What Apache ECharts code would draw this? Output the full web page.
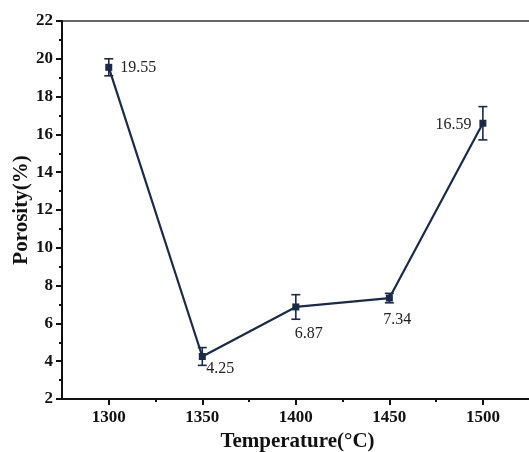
<!DOCTYPE html>
<html>
<head>
<meta charset="utf-8">
<script src="https://cdn.jsdelivr.net/npm/echarts@6/dist/echarts.min.js"></script>
<style>
  html, body { margin: 0; padding: 0; background: #fff; }
  #main { width: 529px; height: 452px; }
</style>
</head>
<body>
<div id="main"></div>
<script>
// data
var temps = [1300, 1350, 1400, 1450, 1500];
var porosity = [19.55, 4.25, 6.87, 7.34, 16.59];
var errors = [0.45, 0.47, 0.65, 0.25, 0.88];
var xMajorTicks = [1300, 1350, 1400, 1450, 1500];
var xMinorTicks = [1325, 1375, 1425, 1475];

var lineColor = '#1b2a47';
var serif = '"Liberation Serif", "DejaVu Serif", serif';

// label placement per point (position, offset)
var labelPlace = [
  { position: 'right', distance: 8, offset: [0, 0] },
  { position: 'bottom', distance: 1, offset: [18, 0] },
  { position: 'bottom', distance: 15, offset: [13, 0] },
  { position: 'bottom', distance: 10, offset: [8, 0] },
  { position: 'left', distance: 8, offset: [0, 2] }
];

var lineData = temps.map(function (t, i) {
  return {
    value: [t, porosity[i]],
    label: {
      show: true,
      position: labelPlace[i].position,
      distance: labelPlace[i].distance,
      offset: labelPlace[i].offset,
      formatter: porosity[i].toFixed(2)
    }
  };
});

var errData = temps.map(function (t, i) {
  return [t, porosity[i] - errors[i], porosity[i] + errors[i]];
});

var myChart = echarts.init(document.getElementById('main'));
myChart.setOption({
  animation: false,
  grid: {
    left: 62,
    top: 21,
    height: 378,
    width: 477,
    outerBoundsMode: 'none',
    containLabel: false,
    show: true,
    borderColor: '#333',
    borderWidth: 1.5,
    backgroundColor: 'transparent'
  },
  xAxis: [
    {
      type: 'value',
      min: 1275,
      max: 1530,
      name: 'Temperature(°C)',
      nameLocation: 'middle',
      nameGap: 31,
      nameTextStyle: { fontFamily: serif, fontWeight: 'bold', fontSize: 21, color: '#111', padding: [0, 0, 0, -6] },
      axisLine: { show: true, lineStyle: { color: '#111', width: 2 } },
      axisTick: { show: true, customValues: xMajorTicks, length: 6, inside: false, lineStyle: { color: '#111', width: 2 } },
      axisLabel: {
        customValues: xMajorTicks,
        formatter: function (v) { return String(v); },
        fontFamily: serif, fontWeight: 'bold', fontSize: 17, color: '#111', margin: 10
      },
      splitLine: { show: false }
    },
    {
      type: 'value',
      min: 1275,
      max: 1530,
      position: 'bottom',
      axisLine: { show: false },
      axisTick: { show: true, customValues: xMinorTicks, length: 3, lineStyle: { color: '#111', width: 2 } },
      axisLabel: { show: false },
      splitLine: { show: false }
    }
  ],
  yAxis: {
    type: 'value',
    min: 2,
    max: 22,
    interval: 2,
    name: 'Porosity(%)',
    nameLocation: 'middle',
    nameGap: 30,
    nameMoveOverlap: false,
    nameTextStyle: { fontFamily: serif, fontWeight: 'bold', fontSize: 21, color: '#111' },
    axisLine: { show: true, lineStyle: { color: '#111', width: 2 } },
    axisTick: { show: true, length: 6, lineStyle: { color: '#111', width: 2 } },
    minorTick: { show: true, splitNumber: 2, length: 3, lineStyle: { color: '#111', width: 2 } },
    axisLabel: { fontFamily: serif, fontWeight: 'bold', fontSize: 17, color: '#111', margin: 9 },
    splitLine: { show: false },
    minorSplitLine: { show: false }
  },
  series: [
    {
      name: 'Porosity',
      type: 'line',
      xAxisIndex: 0,
      data: lineData,
      symbol: 'rect',
      symbolSize: 7,
      lineStyle: { color: lineColor, width: 2.2 },
      itemStyle: { color: lineColor },
      label: { fontFamily: serif, fontSize: 16, color: '#222' },
      z: 3
    },
    {
      name: 'Error',
      type: 'custom',
      xAxisIndex: 0,
      data: errData,
      renderItem: function (params, api) {
        var x = api.value(0);
        var lo = api.coord([x, api.value(1)]);
        var hi = api.coord([x, api.value(2)]);
        var w = 4.5;
        var style = { stroke: lineColor, lineWidth: 1.6 };
        return {
          type: 'group',
          children: [
            { type: 'line', shape: { x1: lo[0], y1: lo[1], x2: hi[0], y2: hi[1] }, style: style },
            { type: 'line', shape: { x1: lo[0] - w, y1: lo[1], x2: lo[0] + w, y2: lo[1] }, style: style },
            { type: 'line', shape: { x1: hi[0] - w, y1: hi[1], x2: hi[0] + w, y2: hi[1] }, style: style }
          ]
        };
      },
      z: 4
    }
  ]
});
</script>
</body>
</html>
